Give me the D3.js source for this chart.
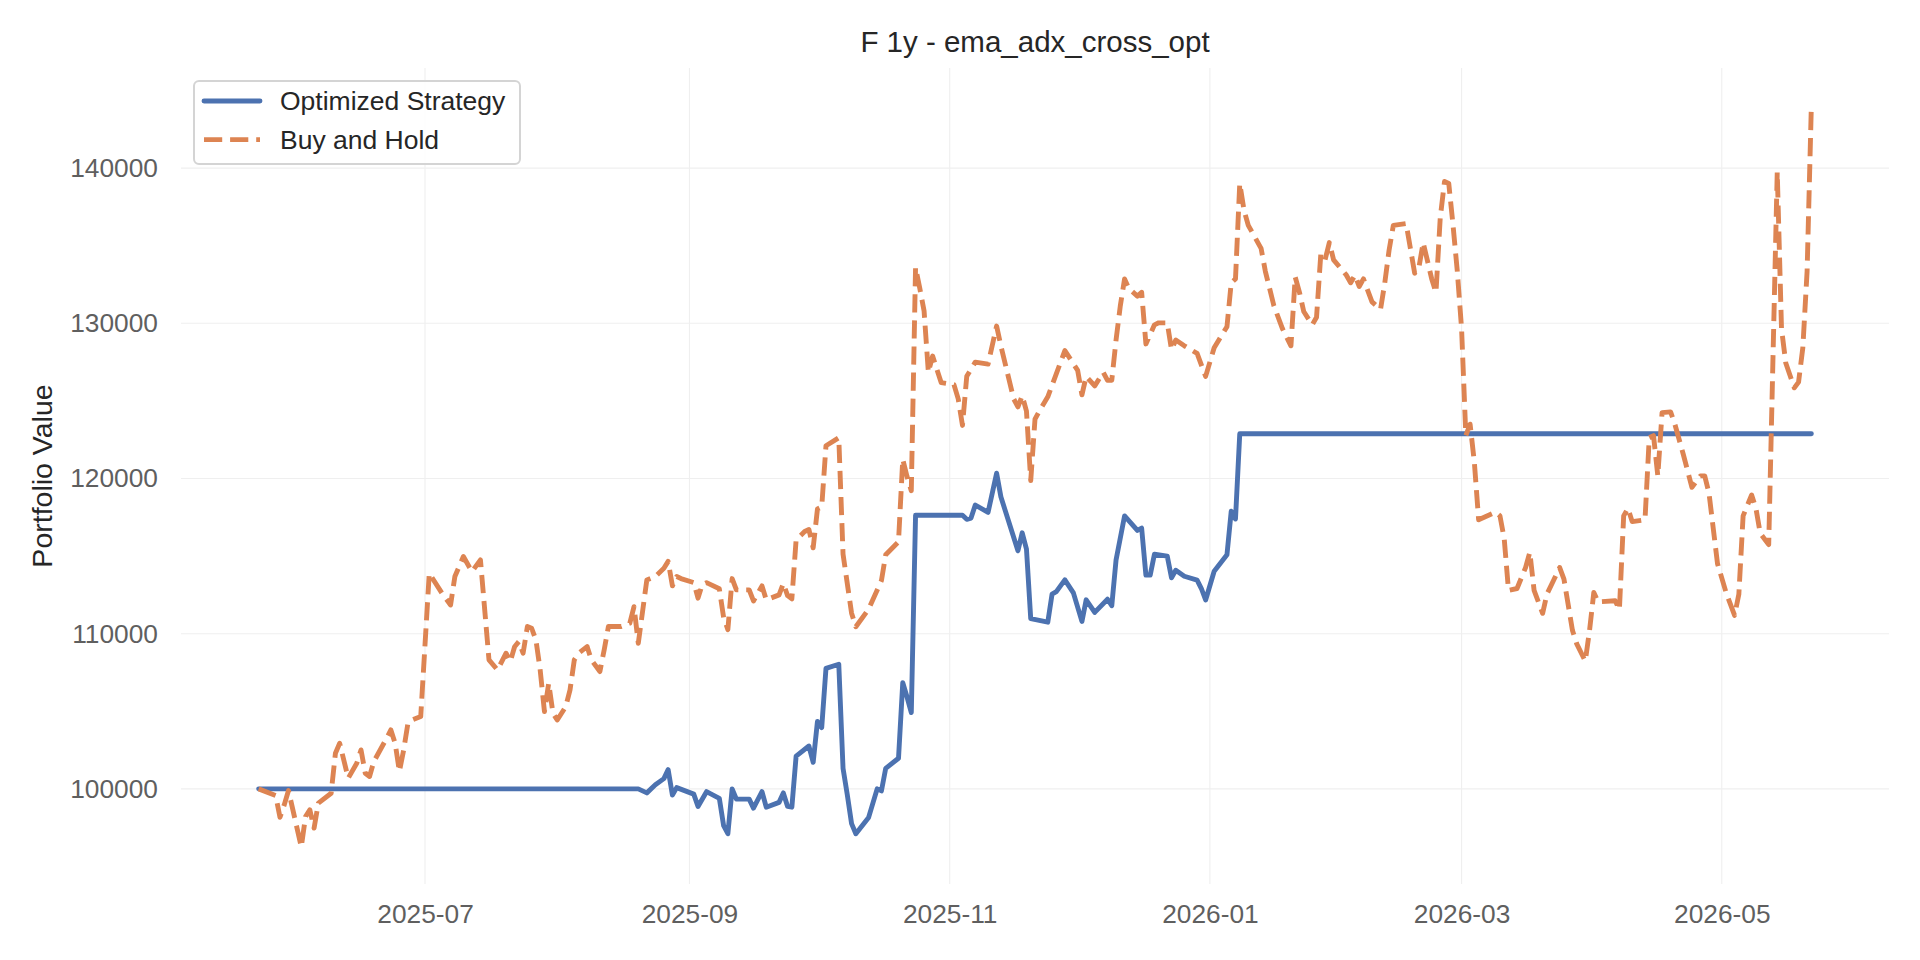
<!DOCTYPE html>
<html>
<head>
<meta charset="utf-8">
<script src="https://cdn.jsdelivr.net/npm/d3@7"></script>
<style>
  html, body { margin: 0; padding: 0; background: #ffffff; }
  svg { display: block; font-family: "Liberation Sans", Arial, sans-serif; }
</style>
</head>
<body>
<svg id="chart" width="1920" height="960"></svg>
<script>
// ---------------- data ----------------
const chartTitle = "F 1y - ema_adx_cross_opt";
const yAxisLabel = "Portfolio Value";
const seriesNames = ["Optimized Strategy", "Buy and Hold"];

const strategyDates = [
  "2025-05-23","2025-08-20","2025-08-22","2025-08-24","2025-08-26","2025-08-27","2025-08-28","2025-08-29",
  "2025-09-02","2025-09-03","2025-09-05","2025-09-08","2025-09-09","2025-09-10","2025-09-11","2025-09-12",
  "2025-09-15","2025-09-16","2025-09-18","2025-09-19","2025-09-22","2025-09-23","2025-09-24","2025-09-25",
  "2025-09-26","2025-09-29","2025-09-30","2025-10-01","2025-10-02","2025-10-03","2025-10-06","2025-10-07",
  "2025-10-08","2025-10-09","2025-10-10","2025-10-13","2025-10-15","2025-10-16","2025-10-17","2025-10-20",
  "2025-10-21","2025-10-22","2025-10-23","2025-10-24","2025-11-04","2025-11-05","2025-11-06","2025-11-07",
  "2025-11-10","2025-11-12","2025-11-13","2025-11-17","2025-11-18","2025-11-19","2025-11-20","2025-11-24",
  "2025-11-25","2025-11-26","2025-11-28","2025-11-30","2025-12-02","2025-12-03","2025-12-05","2025-12-08",
  "2025-12-09","2025-12-10","2025-12-12","2025-12-15","2025-12-16","2025-12-17","2025-12-18","2025-12-19",
  "2025-12-22","2025-12-23","2025-12-24","2025-12-26","2025-12-29","2025-12-30","2025-12-31","2026-01-02",
  "2026-01-05","2026-01-06","2026-01-07","2026-01-08","2026-05-22"
];
const strategyValues = [
  100000,100000,99740,100260,100660,101240,99600,100080,
  99660,98870,99820,99390,97630,97110,100000,99340,
  99340,98760,99820,98820,99130,99740,98870,98820,
  102110,102760,101710,104340,103950,107760,108030,101320,
  99610,97760,97110,98160,100000,99870,101320,101970,
  106840,105920,104920,117630,117630,117370,117450,118290,
  117820,120340,118820,115340,116500,115450,110970,110740,
  112550,112710,113470,112630,110790,112180,111370,112220,
  111800,114750,117590,116650,116800,113770,113770,115120,
  115000,113600,114090,113700,113450,112910,112170,114020,
  115080,117890,117390,122880,122880
];

const buyHoldDates = [
  "2025-05-23","2025-05-27","2025-05-28","2025-05-29","2025-05-30","2025-06-02","2025-06-03","2025-06-04",
  "2025-06-05","2025-06-06","2025-06-09","2025-06-10","2025-06-11","2025-06-13","2025-06-15","2025-06-16",
  "2025-06-17","2025-06-18","2025-06-19","2025-06-22","2025-06-23","2025-06-24","2025-06-25","2025-06-26",
  "2025-06-27","2025-06-28","2025-06-30","2025-07-02","2025-07-05","2025-07-07","2025-07-08","2025-07-10",
  "2025-07-12","2025-07-14","2025-07-16","2025-07-18","2025-07-20","2025-07-21","2025-07-22","2025-07-23",
  "2025-07-24","2025-07-25","2025-07-26","2025-07-27","2025-07-28","2025-07-29","2025-07-30","2025-07-31",
  "2025-08-01","2025-08-03","2025-08-04","2025-08-05","2025-08-06","2025-08-08","2025-08-09","2025-08-11",
  "2025-08-12","2025-08-13","2025-08-16","2025-08-18","2025-08-19","2025-08-20","2025-08-22","2025-08-24",
  "2025-08-26","2025-08-27","2025-08-28","2025-08-29","2025-08-30","2025-09-02","2025-09-03","2025-09-04",
  "2025-09-05","2025-09-08","2025-09-09","2025-09-10","2025-09-11","2025-09-12","2025-09-15","2025-09-16",
  "2025-09-18","2025-09-19","2025-09-22","2025-09-23","2025-09-24","2025-09-25","2025-09-26","2025-09-28",
  "2025-09-29","2025-09-30","2025-10-01","2025-10-02","2025-10-03","2025-10-06","2025-10-07","2025-10-09",
  "2025-10-10","2025-10-13","2025-10-16","2025-10-17","2025-10-20","2025-10-21","2025-10-22","2025-10-23",
  "2025-10-24","2025-10-25","2025-10-26","2025-10-27","2025-10-28","2025-10-30","2025-11-02","2025-11-03",
  "2025-11-04","2025-11-05","2025-11-07","2025-11-10","2025-11-12","2025-11-13","2025-11-16","2025-11-17",
  "2025-11-18","2025-11-19","2025-11-20","2025-11-21","2025-11-22","2025-11-24","2025-11-28","2025-12-01",
  "2025-12-02","2025-12-03","2025-12-05","2025-12-07","2025-12-08","2025-12-09","2025-12-10","2025-12-11",
  "2025-12-12","2025-12-13","2025-12-15","2025-12-16","2025-12-17","2025-12-19","2025-12-20","2025-12-22",
  "2025-12-23","2025-12-24","2025-12-26","2025-12-29","2025-12-31","2026-01-02","2026-01-05","2026-01-06",
  "2026-01-07","2026-01-08","2026-01-09","2026-01-10","2026-01-13","2026-01-14","2026-01-16","2026-01-18",
  "2026-01-20","2026-01-21","2026-01-22","2026-01-23","2026-01-25","2026-01-26","2026-01-27","2026-01-28",
  "2026-01-29","2026-01-30","2026-02-02","2026-02-03","2026-02-04","2026-02-05","2026-02-06","2026-02-08",
  "2026-02-10","2026-02-11","2026-02-12","2026-02-13","2026-02-16","2026-02-17","2026-02-18","2026-02-19",
  "2026-02-20","2026-02-22","2026-02-23","2026-02-24","2026-02-25","2026-02-26","2026-02-27","2026-02-28",
  "2026-03-01","2026-03-02","2026-03-03","2026-03-04","2026-03-05","2026-03-09","2026-03-10","2026-03-11",
  "2026-03-12","2026-03-14","2026-03-16","2026-03-17","2026-03-18","2026-03-20","2026-03-21","2026-03-24",
  "2026-03-25","2026-03-27","2026-03-28","2026-03-30","2026-03-31","2026-04-01","2026-04-02","2026-04-06",
  "2026-04-07","2026-04-08","2026-04-09","2026-04-10","2026-04-13","2026-04-14","2026-04-15","2026-04-16",
  "2026-04-17","2026-04-19","2026-04-20","2026-04-22","2026-04-24","2026-04-26","2026-04-27","2026-04-28",
  "2026-04-30","2026-05-02","2026-05-04","2026-05-05","2026-05-06","2026-05-08","2026-05-09","2026-05-10",
  "2026-05-12","2026-05-14","2026-05-15","2026-05-16","2026-05-18","2026-05-19","2026-05-20","2026-05-21",
  "2026-05-22"
];
const buyHoldValues = [
  100000,99570,98170,98970,99890,96260,98220,98650,
  97470,99080,99720,102300,102940,100690,101650,102510,
  101010,100800,101760,103260,103800,102940,101120,102510,
  104230,104440,104660,113890,112600,111850,113680,114970,
  114000,114750,108310,107660,108740,108200,109160,109490,
  108740,110460,110350,109600,107660,104980,106810,104870,
  104440,105300,106380,108310,108740,109170,108310,107560,
  108950,110460,110460,110670,111740,109380,113460,113680,
  114210,114660,113080,113680,113550,113290,112290,113160,
  113290,112890,111050,110260,113550,112820,112820,112110,
  113080,112180,112500,113240,112450,112240,116050,116580,
  116710,115530,118030,118160,122110,122630,115130,111320,
  110450,111580,113420,115080,115920,121240,120130,119210,
  133610,132240,130790,126840,127890,126180,126050,125130,
  123420,126580,127500,127370,129820,128550,125130,124610,
  125340,124340,119870,123820,124340,125260,128240,126970,
  125390,126580,125970,126840,126320,126330,128920,131130,
  132860,132240,131750,132000,128670,129900,130030,130030,
  128300,128920,128550,128060,126580,128420,129780,132610,
  132860,139010,137290,136310,134830,133350,131130,129660,
  128550,132980,131990,130760,129900,130390,134460,134090,
  135200,134090,133100,132610,133100,132370,132860,131380,
  130890,132610,134700,136310,136430,134830,133230,133600,
  135200,132860,131990,136800,139140,139010,136310,133350,
  129660,122760,123500,121030,117340,117830,117590,116110,
  112790,112910,114260,115250,112790,111310,112540,114260,
  113520,110200,109340,108230,110200,112660,112050,112120,
  111550,117590,118080,117220,117340,122640,122760,120170,
  124240,124290,123500,121530,119430,120170,120170,119060,
  114510,112660,111180,112540,117590,118940,118080,116480,
  115740,139750,129660,127440,125840,126210,128430,133350,
  144060
];

const yTickValues = [100000, 110000, 120000, 130000, 140000];
const colors = ["#4c72b0", "#dd8452"];

// ---------------- layout ----------------
const W = 1920, H = 960;
const plot = { left: 181, right: 1889, top: 68, bottom: 884 };
const parse = d3.utcParse("%Y-%m-%d");

const stratSeries = strategyDates.map((d, i) => ({ date: parse(d), value: strategyValues[i] }));
const bhSeries = buyHoldDates.map((d, i) => ({ date: parse(d), value: buyHoldValues[i] }));
const all = stratSeries.concat(bhSeries);

const xExt = d3.extent(all, d => d.date);
const xPad = (xExt[1] - xExt[0]) * 0.05;
const x = d3.scaleUtc()
  .domain([new Date(+xExt[0] - xPad), new Date(+xExt[1] + xPad)])
  .range([plot.left, plot.right]);

const yExt = d3.extent(all, d => d.value);
const yPad = (yExt[1] - yExt[0]) * 0.05;
const y = d3.scaleLinear()
  .domain([yExt[0] - yPad, yExt[1] + yPad])
  .range([plot.bottom, plot.top]);

const svg = d3.select("#chart");
svg.append("rect").attr("width", W).attr("height", H).attr("fill", "#ffffff");

// grid
const xTicks = x.ticks(d3.utcMonth.every(2));
svg.append("g").selectAll("line").data(xTicks).join("line")
  .attr("x1", d => x(d)).attr("x2", d => x(d))
  .attr("y1", plot.top).attr("y2", plot.bottom)
  .attr("stroke", "#efefef").attr("stroke-width", 1.1);
svg.append("g").selectAll("line").data(yTickValues).join("line")
  .attr("x1", plot.left).attr("x2", plot.right)
  .attr("y1", d => y(d)).attr("y2", d => y(d))
  .attr("stroke", "#efefef").attr("stroke-width", 1.1);

// axes
const xAxis = svg.append("g")
  .attr("transform", `translate(0,${plot.bottom})`)
  .call(d3.axisBottom(x).tickValues(xTicks).tickFormat(d3.utcFormat("%Y-%m")).tickSize(0).tickPadding(20));
const yAxis = svg.append("g")
  .attr("transform", `translate(${plot.left},0)`)
  .call(d3.axisLeft(y).tickValues(yTickValues).tickFormat(d3.format("d")).tickSize(0).tickPadding(23));
[xAxis, yAxis].forEach(g => {
  g.select(".domain").remove();
  g.selectAll("text")
    .attr("fill", "#5f5f5f")
    .style("font-size", "26.3px")
    .style("font-family", "'Liberation Sans', Arial, sans-serif");
});

// lines
const line = d3.line().x(d => x(d.date)).y(d => y(d.value));
svg.append("path").datum(stratSeries)
  .attr("d", line).attr("fill", "none")
  .attr("stroke", colors[0]).attr("stroke-width", 4.9)
  .attr("stroke-linejoin", "round").attr("stroke-linecap", "round");
svg.append("path").datum(bhSeries)
  .attr("d", line).attr("fill", "none")
  .attr("stroke", colors[1]).attr("stroke-width", 4.9)
  .attr("stroke-dasharray", "18.2,7.9")
  .attr("stroke-linejoin", "round").attr("stroke-linecap", "butt");

// title
svg.append("text")
  .attr("x", (plot.left + plot.right) / 2).attr("y", 52)
  .attr("text-anchor", "middle")
  .attr("fill", "#262626")
  .style("font-size", "29.5px")
  .text(chartTitle);

// y label
svg.append("text")
  .attr("transform", `translate(52,${(plot.top + plot.bottom) / 2}) rotate(-90)`)
  .attr("text-anchor", "middle")
  .attr("fill", "#262626")
  .style("font-size", "28.5px")
  .text(yAxisLabel);

// legend
const lg = svg.append("g").attr("transform", `translate(${plot.left + 13},${plot.top + 13})`);
lg.append("rect")
  .attr("x", 0).attr("y", 0).attr("width", 326).attr("height", 83)
  .attr("rx", 5).attr("ry", 5)
  .attr("fill", "#ffffff").attr("fill-opacity", 0.85)
  .attr("stroke", "#d4d4d4").attr("stroke-width", 2);
const legendItems = [
  { name: seriesNames[0], color: colors[0], dash: null, cap: "round" },
  { name: seriesNames[1], color: colors[1], dash: "18.2,7.9", cap: "butt" }
];
legendItems.forEach((it, i) => {
  const cy = 20 + i * 38.6;
  lg.append("line")
    .attr("x1", 10).attr("x2", 66).attr("y1", cy).attr("y2", cy)
    .attr("stroke", it.color).attr("stroke-width", 4.9)
    .attr("stroke-linecap", it.cap)
    .attr("stroke-dasharray", it.dash);
  lg.append("text")
    .attr("x", 86).attr("y", cy).attr("dy", "0.35em")
    .attr("fill", "#262626")
    .style("font-size", "26.5px")
    .text(it.name);
});
</script>
</body>
</html>
